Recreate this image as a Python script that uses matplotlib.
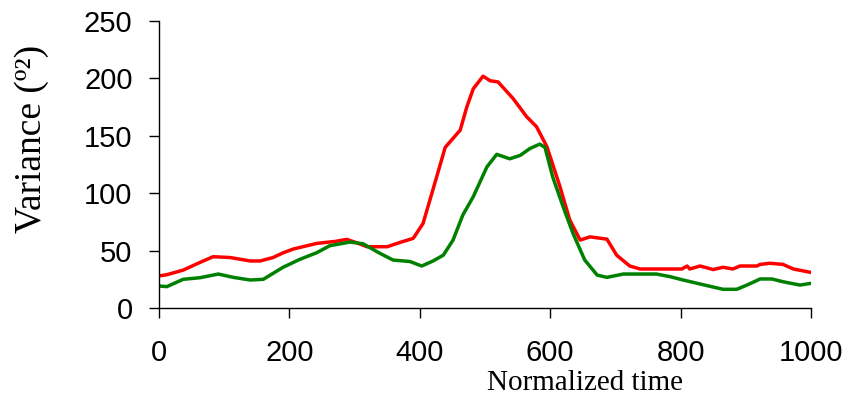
import matplotlib
matplotlib.use("Agg")
import matplotlib.pyplot as plt

# Variance over normalized time for two conditions
red_t = [0, 12, 37, 60, 83, 109, 140, 155, 175, 190, 206, 242, 270, 288, 305, 319, 350,
         370, 390, 405, 420, 439, 462, 472, 482, 497, 508, 520, 543, 564, 579, 595,
         615, 630, 646, 661, 687, 702, 722, 738, 802, 810, 814, 830, 850, 865, 880,
         891, 917, 922, 937, 957, 973, 1000]
red_v = [28, 29, 33, 39, 44.7, 44, 41, 41, 44, 48, 51.4, 56.3, 58, 59.8, 56.5, 53.4, 53.4,
         57.2, 60.7, 73.7, 102.8, 140, 155, 175, 191, 202, 198, 197, 182.6, 166.6, 158, 140.5,
         105.7, 76.7, 59.2, 62, 60, 46, 36.6, 34, 34, 36.6, 34, 36.6, 33.5, 35.5, 34,
         36.6, 36.6, 38, 39, 38, 34, 31]

green_t = [0, 12, 37, 63, 91, 114, 140, 160, 190, 216, 242, 262, 293, 313, 339, 359, 385,
           403, 420, 436, 451, 466, 482, 503, 518, 538, 554, 569, 584, 592, 604, 620,
           635, 653, 672, 687, 712, 763, 784, 804, 830, 865, 886, 901, 922, 940, 957,
           983, 1000]
green_v = [19.2, 18.6, 25, 26.4, 29.6, 26.7, 24.4, 25, 35.4, 42.4, 48.2, 54.3, 57.5, 56, 47.6,
           41.8, 40.5, 36.6, 40.9, 46, 59.2, 81, 97, 123, 133.9, 130, 133, 139, 142.8, 140,
           114, 88, 65, 41.8, 28.7, 26.7, 29.6, 29.6, 27.3, 24.4, 20.9, 16.3, 16.3, 19.8,
           25.3, 25.3, 22.9, 20, 21.5]

x_ticks = [0, 200, 400, 600, 800, 1000]
y_ticks = [0, 50, 100, 150, 200, 250]

fig = plt.figure(figsize=(8.47, 3.98), dpi=100)
ax = fig.add_axes([0.1877, 0.2261, 0.7698, 0.7209])

ax.plot(red_t, red_v, color="#ff0000", lw=2.5, solid_joinstyle="round")
ax.plot(green_t, green_v, color="#008000", lw=2.5, solid_joinstyle="round")

ax.set_xlim(0, 1000)
ax.set_ylim(0, 250)
ax.set_xticks(x_ticks)
ax.set_yticks(y_ticks)

for s in ("top", "right"):
    ax.spines[s].set_visible(False)
for s in ("left", "bottom"):
    ax.spines[s].set_linewidth(1.0)
    ax.spines[s].set_color("black")

ax.tick_params(axis="both", direction="out", length=7, width=1.0, colors="black",
               labelsize=21)
ax.tick_params(axis="x", pad=15)
ax.tick_params(axis="y", pad=12)
for lbl in ax.get_xticklabels() + ax.get_yticklabels():
    lbl.set_family("Liberation Sans")

fig.text(0.038, 0.65, "Variance (º²)", rotation=90, ha="center", va="center",
         fontsize=27, family="Liberation Serif")
fig.text(0.691, 0.004, "Normalized time", ha="center", va="bottom",
         fontsize=21, family="Liberation Serif")

fig.savefig("out.png", dpi=100)
